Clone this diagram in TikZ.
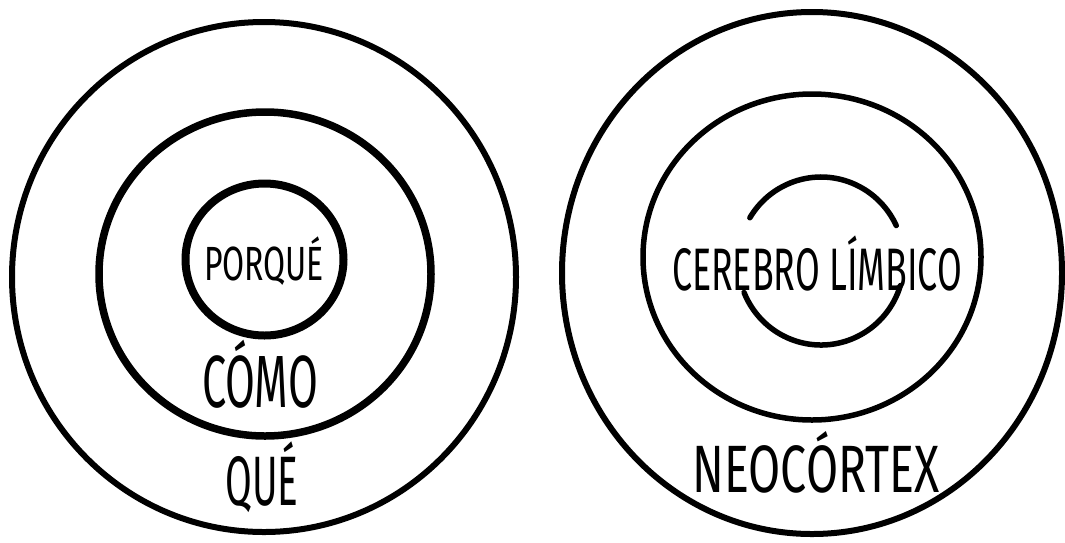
\documentclass[tikz,border=0pt]{standalone}
\usepackage{fontspec}
\usepackage{graphicx}
\newfontfamily\hand{Fira Sans}
\newcommand\mylbl[3]{{\hand\fontsize{#2}{#2}\selectfont\resizebox{#1}{\height}{#3}}}
\begin{document}
\begin{tikzpicture}[x=1pt,y=-1pt,
  ring/.style={draw=black,line width=#1},
  ring/.default=5pt,
  word/.style={inner sep=0pt,anchor=base,text=black}]
\useasboundingbox (0,0) rectangle (1065,542);
\fill[white] (0,0) rectangle (1065,542);
% left rings
\draw[ring=6pt] (264,277) ellipse [x radius=252, y radius=255];
\draw[ring=7.5pt] (265,274) ellipse [x radius=166, y radius=162];
\draw[ring=8pt] (264.5,259.5) ellipse [x radius=79, y radius=76];
% right rings
\draw[ring=6pt] (812,273) ellipse [x radius=250, y radius=261];
\draw[ring=5.5pt] (812,257) ellipse [x radius=169, y radius=163];
\draw[ring=5.5pt,line cap=round] (821,261) ++(17:83 and 84) arc [start angle=17, end angle=158, x radius=83, y radius=84];
\draw[ring=5.5pt,line cap=round] (821,261) ++(211:83 and 84) arc [start angle=211, end angle=335, x radius=83, y radius=84];
% labels
\node[word] (porque) at (264,280) {\mylbl{120pt}{48pt}{PORQUÉ}};
\node[word] (como) at (260,407) {\mylbl{116pt}{74pt}{CÓMO}};
\node[word] (que) at (262,505) {\mylbl{73pt}{70pt}{QUÉ}};
\node[word] (limbico) at (817,290) {\mylbl{290pt}{60pt}{CEREBRO LÍMBICO}};
\node[word] (neo) at (816,492) {\mylbl{247pt}{67pt}{NEOCÓRTEX}};
\end{tikzpicture}
\end{document}
